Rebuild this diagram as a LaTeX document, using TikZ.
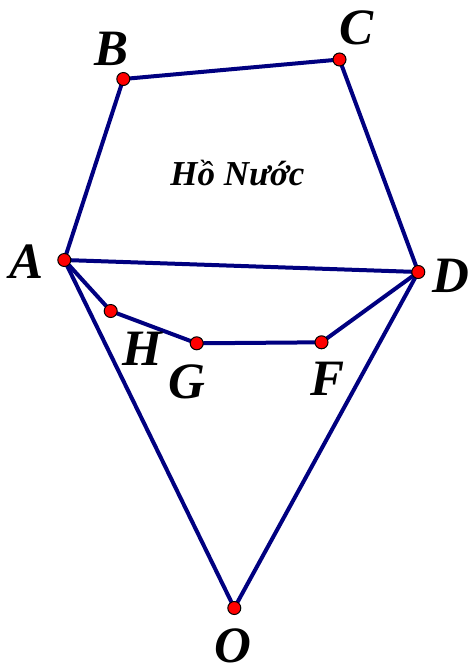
\documentclass[tikz,border=0pt]{standalone}
\usepackage{fontspec}
\setmainfont{Liberation Serif}
\definecolor{edgeblue}{RGB}{0,0,128}
\definecolor{dotred}{RGB}{255,0,0}
\begin{document}
\begin{tikzpicture}[x=1pt,y=-1pt,
  seg/.style={draw=edgeblue,line width=4pt,line join=round},
  pt/.style={circle,fill=dotred,draw=black,line width=1pt,minimum size=13pt,inner sep=0pt},
  lbl/.style={anchor=base,inner sep=0pt,font=\fontsize{51}{51}\selectfont\bfseries\itshape},
  title/.style={anchor=base,inner sep=0pt,font=\fontsize{35}{35}\selectfont\bfseries\itshape}]
\useasboundingbox (0,0) rectangle (468,664);
\coordinate (A) at (64.3,260);
\coordinate (B) at (123.3,79);
\coordinate (C) at (339.5,59.5);
\coordinate (D) at (418.3,272);
\coordinate (H) at (110.7,311);
\coordinate (G) at (196.7,343.3);
\coordinate (F) at (321.5,342.3);
\coordinate (O) at (234.3,608);
\draw[seg] (A) -- (B) -- (C) -- (D) -- (A);
\draw[seg] (A) -- (H) -- (G) -- (F) -- (D);
\draw[seg] (A) -- (O) -- (D);
\foreach \p in {A,B,C,D,H,G,F,O} \node[pt] (p\p) at (\p) {};
\node[lbl] (lB) at (111.5,65) {B};
\node[lbl] (lC) at (356.5,44) {C};
\node[lbl] (lA) at (27,278) {A};
\node[lbl] (lD) at (451,292) {D};
\node[lbl] (lH) at (142.5,365) {H};
\node[lbl] (lG) at (186.5,398) {G};
\node[lbl] (lF) at (328,395) {F};
\node[lbl] (lO) at (233,662) {O};
\node[title] (t) at (237.5,185) {Hồ Nước};
\end{tikzpicture}
\end{document}
